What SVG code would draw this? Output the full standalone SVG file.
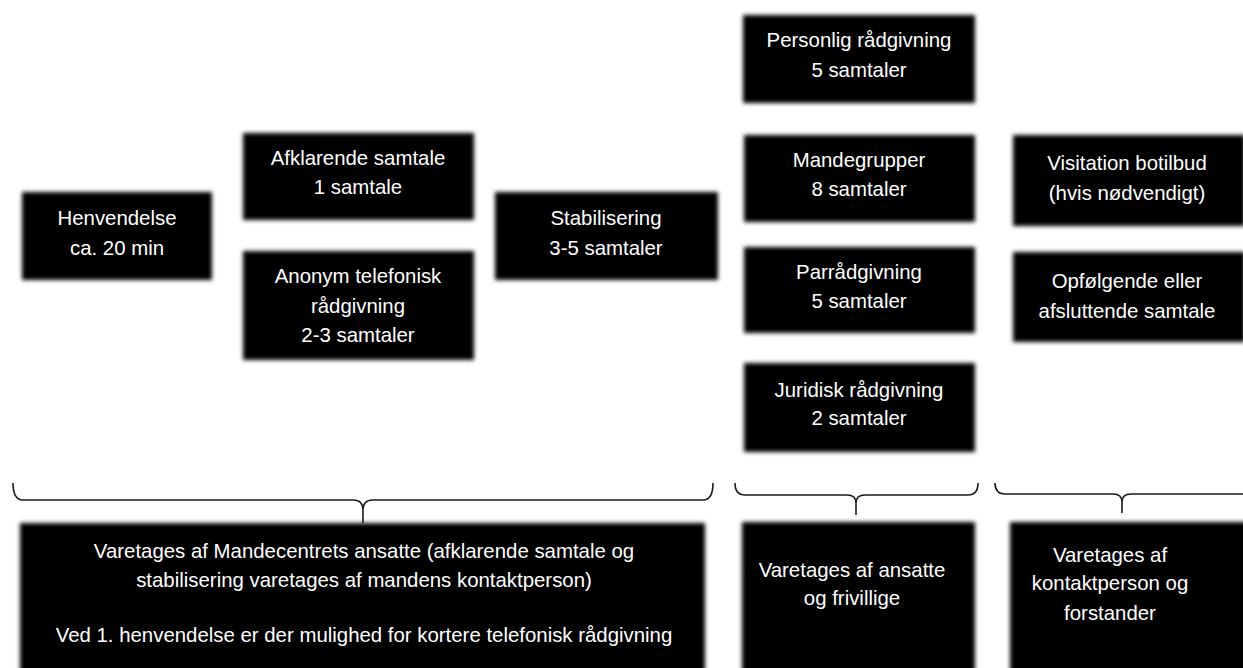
<svg xmlns="http://www.w3.org/2000/svg" width="1243" height="668" viewBox="0 0 1243 668">
<style>
.box{fill:#000;filter:url(#soft)}
.t{fill:#fff;font-family:"Liberation Sans",Arial,sans-serif;font-size:20.4px;text-anchor:middle}
.brace{fill:none;stroke:#1a1a1a;stroke-width:1.6}
</style>
<defs>
<filter id="soft" x="-5%" y="-5%" width="110%" height="110%">
<feGaussianBlur stdDeviation="2"/>
</filter>
</defs>
<rect width="1243" height="668" fill="#fff"/>
<g id="henvendelse"><rect class="box" x="22" y="192" width="190" height="88"/><text class="t" x="117" y="225">Henvendelse</text><text class="t" x="117" y="255">ca. 20 min</text></g>
<g id="afklarende"><rect class="box" x="243" y="133" width="231" height="87"/><text class="t" x="358" y="165">Afklarende samtale</text><text class="t" x="358" y="194">1 samtale</text></g>
<g id="anonym"><rect class="box" x="243" y="251" width="231" height="109"/><text class="t" x="358" y="283">Anonym telefonisk</text><text class="t" x="358" y="313">rådgivning</text><text class="t" x="358" y="342">2-3 samtaler</text></g>
<g id="stabilisering"><rect class="box" x="495" y="192" width="223" height="88"/><text class="t" x="606" y="225">Stabilisering</text><text class="t" x="606" y="255">3-5 samtaler</text></g>
<g id="personlig"><rect class="box" x="743" y="15" width="232" height="88"/><text class="t" x="859" y="47">Personlig rådgivning</text><text class="t" x="859" y="77">5 samtaler</text></g>
<g id="mandegrupper"><rect class="box" x="744" y="135" width="231" height="87"/><text class="t" x="859" y="167">Mandegrupper</text><text class="t" x="859" y="196">8 samtaler</text></g>
<g id="parraadgivning"><rect class="box" x="744" y="247" width="231" height="86"/><text class="t" x="859" y="279">Parrådgivning</text><text class="t" x="859" y="308">5 samtaler</text></g>
<g id="juridisk"><rect class="box" x="744" y="363" width="231" height="89"/><text class="t" x="859" y="397">Juridisk rådgivning</text><text class="t" x="859" y="425">2 samtaler</text></g>
<g id="visitation"><rect class="box" x="1013" y="135" width="232" height="91"/><text class="t" x="1127" y="170">Visitation botilbud</text><text class="t" x="1127" y="200">(hvis nødvendigt)</text></g>
<g id="opfoelgende"><rect class="box" x="1013" y="252" width="232" height="90"/><text class="t" x="1127" y="288">Opfølgende eller</text><text class="t" x="1127" y="318">afsluttende samtale</text></g>
<g id="varetages-mandecentret"><rect class="box" x="20" y="523" width="685" height="160"/><text class="t" x="364" y="558">Varetages af Mandecentrets ansatte (afklarende samtale og</text><text class="t" x="364" y="587">stabilisering varetages af mandens kontaktperson)</text><text class="t" x="364" y="642">Ved 1. henvendelse er der mulighed for kortere telefonisk rådgivning</text></g>
<g id="varetages-ansatte"><rect class="box" x="742" y="522" width="233" height="160"/><text class="t" x="852" y="577">Varetages af ansatte</text><text class="t" x="852" y="605">og frivillige</text></g>
<g id="varetages-kontakt"><rect class="box" x="1010" y="522" width="245" height="160"/><text class="t" x="1110" y="562">Varetages af</text><text class="t" x="1110" y="590">kontaktperson og</text><text class="t" x="1110" y="620">forstander</text></g>
<g id="connectors">
<path class="brace" d="M13,483 Q13,500 23,500 L353,500 Q363,500 363,510 L363,523 M363,510 Q363,500 373,500 L703,500 Q713,500 713,483"/>
<path class="brace" d="M735,483 Q735,495 745,495 L847,495 Q856,495 856,503 L856,515 M856,503 Q856,495 865,495 L968,495 Q978,495 978,483"/>
<path class="brace" d="M995,483 Q995,494 1005,494 L1113,494 Q1122,494 1122,502 L1122,513 M1122,502 Q1122,494 1131,494 L1260,494"/>
</g>
</svg>
